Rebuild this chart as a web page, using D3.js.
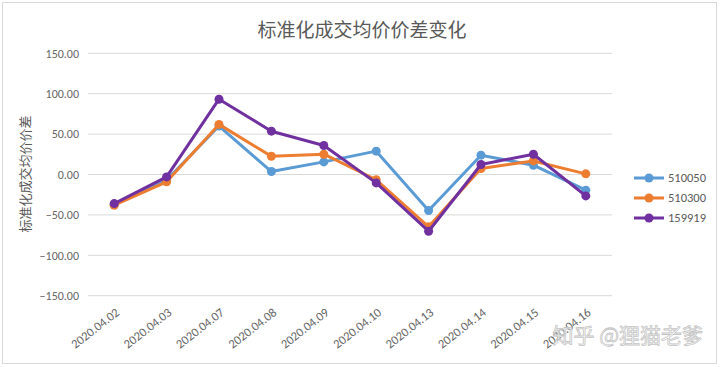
<!DOCTYPE html>
<html>
<head>
<meta charset="utf-8">
<script src="https://cdn.jsdelivr.net/npm/d3@7"></script>
<style>
  body { margin: 0; background: #fff; }
  svg { display: block; font-family: "Microsoft YaHei", "Noto Sans CJK SC", sans-serif; }
</style>
</head>
<body>
<svg width="720" height="367"></svg>
<script>
// data
var dates = ["2020.04.02", "2020.04.03", "2020.04.07", "2020.04.08", "2020.04.09",
  "2020.04.10", "2020.04.13", "2020.04.14", "2020.04.15", "2020.04.16"];
var s510050 = [-37, -7, 60, 3.7, 15.6, 28.9, -44.6, 23.9, 11.5, -19.4];
var s510300 = [-38, -9, 62, 22.6, 25.1, -6.5, -64.8, 7.4, 16.8, 0.8];
var s159919 = [-36, -3, 93.2, 53.6, 35.9, -10.4, -70.2, 12.4, 25.1, -26.5];
var yTicks = [150, 100, 50, 0, -50, -100, -150];

var series = [
  { name: "510050", color: "#5B9BD5", values: s510050 },
  { name: "510300", color: "#ED7D31", values: s510300 },
  { name: "159919", color: "#7030A0", values: s159919 }
];

var svg = d3.select("svg");

// outer border
svg.append("rect")
  .attr("x", 2.5).attr("y", 2.5)
  .attr("width", 714).attr("height", 361)
  .attr("fill", "#fff")
  .attr("stroke", "#d9d9d9");

var x = d3.scaleBand().domain(dates).range([88, 612]);
var y = d3.scaleLinear().domain([-150, 150]).range([295.7, 53.3]);

// gridlines
svg.append("g")
  .selectAll("line")
  .data(yTicks)
  .enter()
  .append("line")
  .attr("x1", 88).attr("x2", 612)
  .attr("y1", function (d) { return y(d); })
  .attr("y2", function (d) { return y(d); })
  .attr("stroke", "#d9d9d9")
  .attr("stroke-width", 1);

// y axis labels
var yAxis = svg.append("g")
  .attr("transform", "translate(88,0)")
  .call(d3.axisLeft(y).tickValues(yTicks).tickSize(0).tickPadding(9)
    .tickFormat(d3.format(".2f")));
yAxis.select(".domain").remove();
yAxis.selectAll("text")
  .attr("fill", "#666")
  .style("font-family", "Calibri, Carlito, 'Liberation Sans', sans-serif")
  .style("font-size", "12px");

// x axis labels
var xAxis = svg.append("g")
  .attr("transform", "translate(0,296)")
  .call(d3.axisBottom(x).tickSize(0).tickPadding(0));
xAxis.select(".domain").remove();
xAxis.selectAll("text")
  .attr("fill", "#666")
  .attr("text-anchor", "end")
  .attr("dy", 0)
  .attr("transform", "translate(6,18) rotate(-38)")
  .style("font-family", "Calibri, Carlito, 'Liberation Sans', sans-serif")
  .style("font-size", "12.5px");

// lines and markers
var line = d3.line()
  .x(function (d, i) { return x(dates[i]) + x.bandwidth() / 2; })
  .y(function (d) { return y(d); });

var groups = svg.append("g")
  .selectAll("g")
  .data(series)
  .enter()
  .append("g");

groups.append("path")
  .attr("d", function (d) { return line(d.values); })
  .attr("fill", "none")
  .attr("stroke", function (d) { return d.color; })
  .attr("stroke-width", 3)
  .attr("stroke-linejoin", "round");

groups.selectAll("circle")
  .data(function (d) {
    return d.values.map(function (v, i) { return { v: v, i: i, color: d.color }; });
  })
  .enter()
  .append("circle")
  .attr("cx", function (d) { return x(dates[d.i]) + x.bandwidth() / 2; })
  .attr("cy", function (d) { return y(d.v); })
  .attr("r", 4.5)
  .attr("fill", function (d) { return d.color; });

// title
svg.append("text")
  .attr("x", 362).attr("y", 37)
  .attr("text-anchor", "middle")
  .attr("fill", "#595959")
  .style("font-size", "19px")
  .text("标准化成交均价价差变化");

// y axis title
svg.append("text")
  .attr("transform", "translate(30,174) rotate(-90)")
  .attr("text-anchor", "middle")
  .attr("fill", "#595959")
  .style("font-size", "13px")
  .text("标准化成交均价价差");

// legend
var legend = svg.append("g")
  .selectAll("g")
  .data(series)
  .enter()
  .append("g")
  .attr("transform", function (d, i) { return "translate(634," + (178 + i * 20) + ")"; });

legend.append("line")
  .attr("x1", 0).attr("x2", 30)
  .attr("stroke", function (d) { return d.color; })
  .attr("stroke-width", 3);

legend.append("circle")
  .attr("cx", 15).attr("r", 4.5)
  .attr("fill", function (d) { return d.color; });

legend.append("text")
  .attr("x", 34).attr("dy", "0.35em")
  .attr("fill", "#595959")
  .style("font-family", "Calibri, Carlito, 'Liberation Sans', sans-serif")
  .style("font-size", "12.5px")
  .text(function (d) { return d.name; });

// watermark
svg.append("text")
  .attr("x", 703).attr("y", 343)
  .attr("text-anchor", "end")
  .attr("fill", "#fff")
  .attr("fill-opacity", 0.6)
  .attr("stroke", "#c4c4c4")
  .attr("stroke-width", 0.8)
  .style("font-size", "21px")
  .text("知乎 @狸猫老爹");
</script>
</body>
</html>
